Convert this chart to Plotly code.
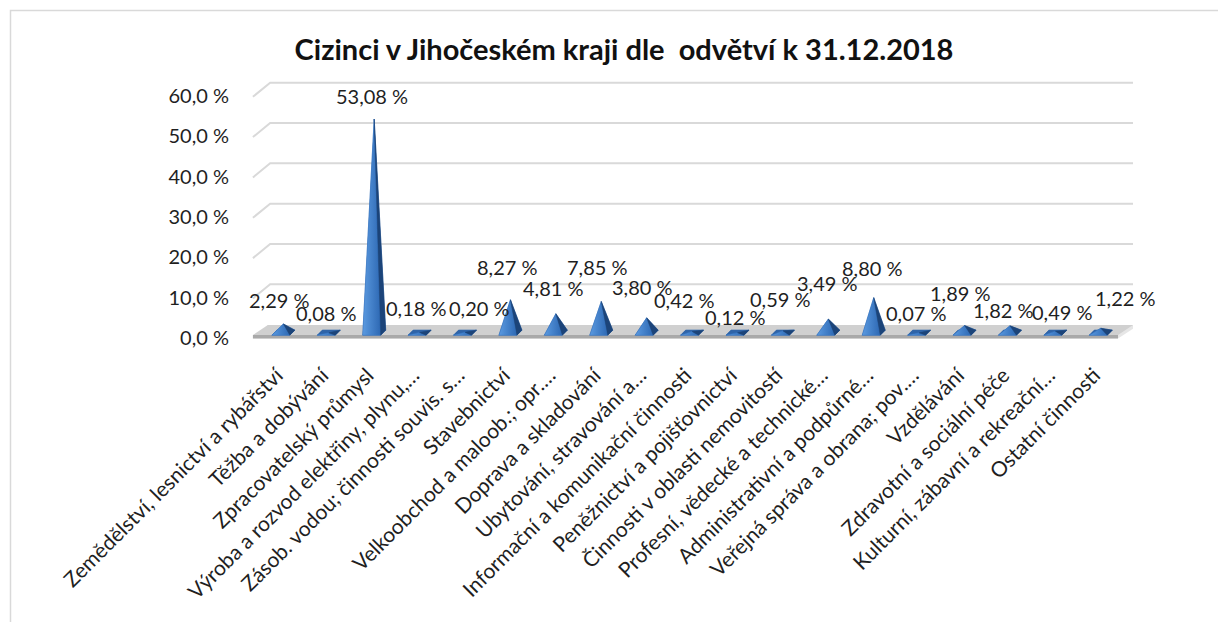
import plotly.graph_objects as go

# ---------------- data ----------------
categories = [
    "Zemědělství, lesnictví a rybářství",
    "Těžba a dobývání",
    "Zpracovatelský průmysl",
    "Výroba a rozvod elektřiny, plynu,…",
    "Zásob. vodou; činnosti souvis. s…",
    "Stavebnictví",
    "Velkoobchod a maloob.; opr.…",
    "Doprava a skladování",
    "Ubytování, stravování a…",
    "Informační a komunikační činnosti",
    "Peněžnictví a pojišťovnictví",
    "Činnosti v oblasti nemovitostí",
    "Profesní, vědecké a technické…",
    "Administrativní a podpůrné…",
    "Veřejná správa a obrana; pov.…",
    "Vzdělávání",
    "Zdravotní a sociální péče",
    "Kulturní, zábavní a rekreační…",
    "Ostatní činnosti",
]
values = [2.29, 0.08, 53.08, 0.18, 0.20, 8.27, 4.81, 7.85, 3.80, 0.42,
          0.12, 0.59, 3.49, 8.80, 0.07, 1.89, 1.82, 0.49, 1.22]
y_tick_values = [0, 10, 20, 30, 40, 50, 60]
y_tick_labels = ["0,0 %", "10,0 %", "20,0 %", "30,0 %", "40,0 %", "50,0 %", "60,0 %"]
title_text = "Cizinci v Jihočeském kraji dle  odvětví k 31.12.2018"

# manual placement nudges of the value labels (pixels: right, down)
label_nudges = [(-3, 4), (-2, 8), (-2, 5), (-3, 4), (15, 4), (-2, -5), (-2, 2),
                (-3, -6), (-4, -3), (-7, -3), (-2, 12), (-2, -4), (0, -8),
                (-1, -2), (-2, 8), (-4, -5), (-6, 12), (8, 9), (25, -2)]

# ---------------- layout geometry ----------------
OFF = 8  # page body margin of the exported html
W, H = 1226, 622
ML, MR, MT, MB = 252 - OFF, 93 + OFF, 77 - OFF, 282 + OFF
X_RANGE = [-0.68, 18.72]
Y_RANGE = [-1.7, 63.5]
PW, PH = W - ML - MR, H - MT - MB
FONT = "Lato, Carlito, Calibri, sans-serif"
TXT = "#1f1f1f"

def xp(px):
    return (px - OFF - ML) / PW

def yp(py):
    return 1 - (py - OFF - MT) / PH

# pyramid geometry (in axis units relative to category centre / value 0)
FL = (-0.242, -0.5)
FR = (0.154, -0.5)
BR = (0.264, 0.74)
BL = (-0.132, 0.74)
AX = 0.011

def closed(pts):
    xs = [p[0] for p in pts] + [pts[0][0]]
    ys = [p[1] for p in pts] + [pts[0][1]]
    return xs, ys

fig = go.Figure()
for i, v in enumerate(values):
    base = [(i + FL[0], FL[1]), (i + FR[0], FR[1]), (i + BR[0], BR[1]), (i + BL[0], BL[1])]
    back = [(i + BL[0], BL[1]), (i + BR[0], BR[1]), (i + AX, v), (i + FL[0], FL[1])]
    front = [(i + FL[0], FL[1]), (i + FR[0], FR[1]), (i + AX, v)]
    right = [(i + FR[0], FR[1]), (i + BR[0], BR[1]), (i + AX, v)]
    for pts, col, lc, grad in [
        (base, "#1f4b86", "#3a74bd", None),
        (back, "#2f64a8", "#2f64a8", None),
        (front, "#3d7dca", "#3d7dca", [[0, "#5b9ae0"], [1, "#2d68b3"]]),
        (right, "#1c4479", "#1c4479", None),
    ]:
        xs, ys = closed(pts)
        kw = {}
        if grad is not None:
            kw["fillgradient"] = dict(type="horizontal", colorscale=grad)
        else:
            kw["fillcolor"] = col
        fig.add_trace(go.Scatter(x=xs, y=ys, mode="lines", fill="toself",
                                 line=dict(color=lc, width=0.5),
                                 hoverinfo="skip", showlegend=False, **kw))

# data labels
for i, v in enumerate(values):
    dx, dy = label_nudges[i]
    fig.add_annotation(x=i, y=v, text=f"{v:.2f}".replace(".", ",") + " %",
                       showarrow=False, xshift=dx, yshift=28 - dy,
                       font=dict(family=FONT, size=20, color=TXT))

shapes = []
# gridlines on the back wall with a slanted side-wall part
for t in y_tick_values[1:]:
    shapes.append(dict(type="path", xref="x", yref="y", layer="below",
                       path=f"M {X_RANGE[0] + 0.02},{t - 1.4} L -0.28,{t + 2.1} L {X_RANGE[1]},{t + 2.1}",
                       line=dict(color="#d9d9d9", width=2)))
# floor slab
fl, fr, sk = -0.66, 18.39, 0.33
ff, fb, fbot = -0.45, 2.0, -1.35
shapes.append(dict(type="path", xref="x", yref="y", layer="below",
                   path=f"M {fl},{fbot} L {fr},{fbot} L {fr + sk},{fb - 0.9} L {fr + sk},{fb} L {fl + sk},{fb} Z",
                   fillcolor="#e6e6e6", line=dict(width=0)))
shapes.append(dict(type="path", xref="x", yref="y", layer="below",
                   path=f"M {fl},{ff} L {fr},{ff} L {fr + sk},{fb} L {fl + sk},{fb} Z",
                   fillcolor="#d0d0d0", line=dict(width=0)))
shapes.append(dict(type="path", xref="x", yref="y", layer="below",
                   path=f"M {fl},{ff} L {fr},{ff} L {fr},{fbot} L {fl},{fbot} Z",
                   fillcolor="#a9a9a9", line=dict(width=0)))
# outer chart frame
shapes.append(dict(type="rect", xref="paper", yref="paper", layer="below",
                   x0=xp(10.5), y0=yp(10.5), x1=xp(1250), y1=yp(650),
                   line=dict(color="#d9d9d9", width=1.5), fillcolor="rgba(0,0,0,0)"))

fig.update_layout(
    width=W, height=H,
    margin=dict(l=ML, r=MR, t=MT, b=MB, autoexpand=False),
    paper_bgcolor="white", plot_bgcolor="rgba(0,0,0,0)",
    shapes=shapes,
    showlegend=False,
    hovermode=False,
    title=dict(text=title_text, x=(624 - OFF) / W, xanchor="center", xref="container",
               y=1 - (50 - OFF) / H, yanchor="middle", yref="container",
               font=dict(family=FONT, size=29, color="#111111", weight="bold")),
    xaxis=dict(range=X_RANGE, tickmode="array", tickvals=list(range(len(categories))),
               ticktext=categories, tickangle=-45, showgrid=False, zeroline=False,
               showline=False, ticks="", ticklabelstandoff=18, ticklabelshift=-6,
               tickfont=dict(family=FONT, size=21, color=TXT)),
    yaxis=dict(range=Y_RANGE, tickmode="array", tickvals=y_tick_values,
               ticktext=y_tick_labels, showgrid=False, zeroline=False,
               showline=False, ticks="", ticklabelstandoff=22, ticklabelshift=5,
               tickfont=dict(family=FONT, size=20, color=TXT)),
)

fig.write_html("out.html")
